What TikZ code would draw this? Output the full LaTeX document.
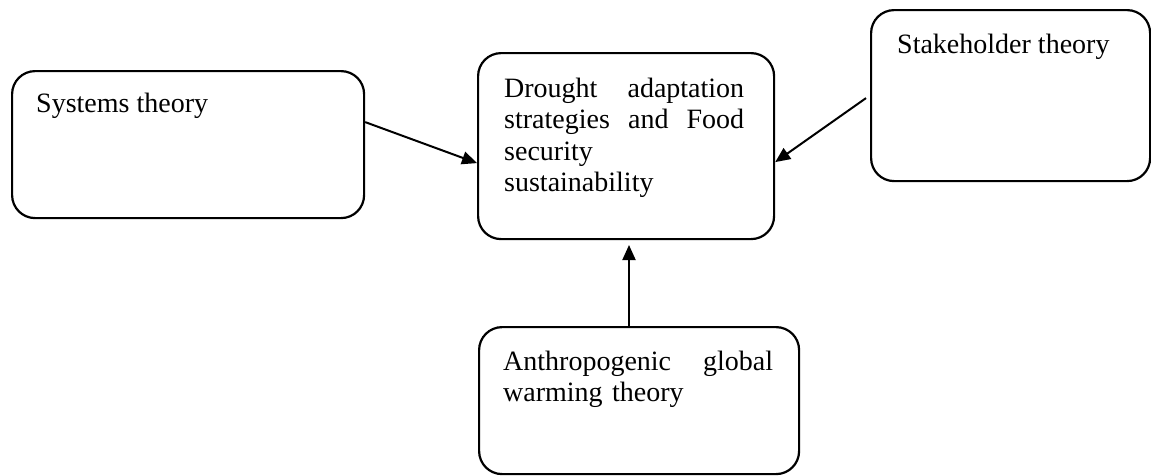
\documentclass[tikz,border=0pt]{standalone}
\usepackage{fontspec}
\setmainfont{Liberation Serif}
\usetikzlibrary{arrows.meta}
\begin{document}
\begin{tikzpicture}[x=1pt,y=-1pt,
  box/.style={draw=black, line width=2.2pt, rounded corners=23pt, inner sep=0pt, anchor=north west},
  txt/.style={anchor=base west, inner sep=0pt, align=left, font=\fontsize{28}{31.5}\selectfont},
  arr/.style={line width=2pt, -{Triangle[length=15pt,width=13pt]}}]
\useasboundingbox (0,0) rectangle (1151,475);
% boxes
\node[box, minimum width=352pt, minimum height=147pt] (sys) at (11,70) {};
\node[box, minimum width=296pt, minimum height=186pt] (mid) at (477,52) {};
\node[box, minimum width=279pt, minimum height=171pt] (stake) at (870,9) {};
\node[box, minimum width=320pt, minimum height=147pt] (anth) at (478,326) {};
% texts
\node[txt] (systxt) at (36,112) {Systems theory};
\node[txt] (staketxt) at (897,53) {Stakeholder theory};
\node[txt, text width=240pt] (midtxt) at (504,97) {Drought\hfill adaptation\\strategies\hfill and\hfill Food\\security\\sustainability};
\node[txt, text width=270pt] (anthtxt) at (503,370) {Anthropogenic\hfill global\\warming theory};
% connectors
\coordinate (tip) at (629,245);
\draw[arr] ([yshift=22.5pt]sys.east) -- ([yshift=-17pt]mid.west);
\draw[arr] ([xshift=-4pt,yshift=-2.5pt]stake.west) -- ([yshift=-16pt]mid.east);
\draw[arr] (anth.north -| tip) -- (tip);
\end{tikzpicture}
\end{document}
